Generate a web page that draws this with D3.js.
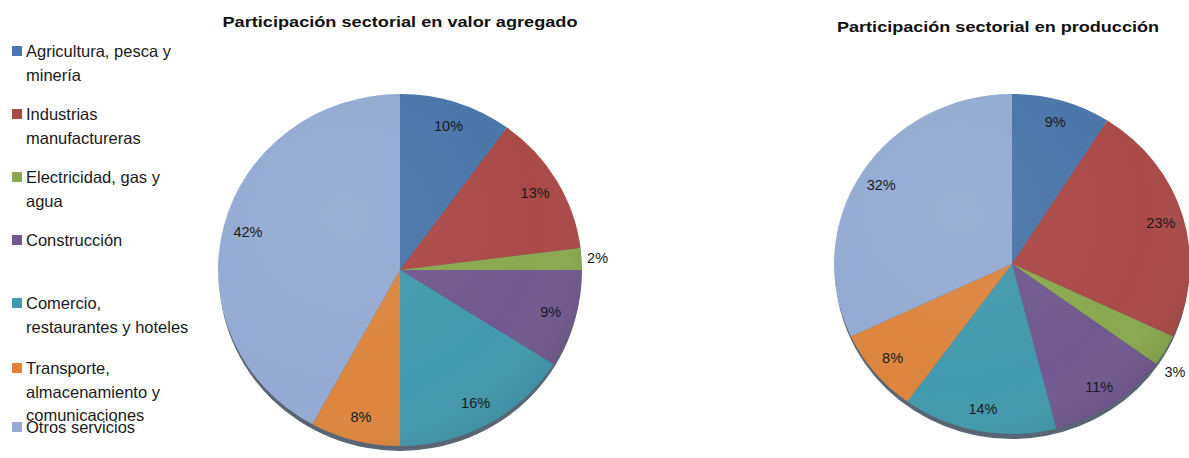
<!DOCTYPE html>
<html>
<head>
<meta charset="utf-8">
<script src="https://cdn.jsdelivr.net/npm/d3@7"></script>
<style>
  html, body { margin: 0; padding: 0; background: #fff; }
  svg { display: block; }
</style>
</head>
<body>
<svg id="chart" width="1189" height="458"></svg>
<script>
// ---- Data ----
const categories = [
  "Agricultura, pesca y|minería",
  "Industrias|manufactureras",
  "Electricidad, gas y|agua",
  "Construcción",
  "Comercio,|restaurantes y hoteles",
  "Transporte,|almacenamiento y|comunicaciones",
  "Otros servicios"
];
const valorAgregado = [10, 13, 2, 9, 16, 8, 42];
const produccion = [9, 23, 3, 11, 14, 8, 32];
const titles = ["Participación sectorial en valor agregado", "Participación sectorial en producción"];
const colors = ["#4a76aa", "#aa4a47", "#8aa84f", "#71598f", "#4399ad", "#dc853f", "#94aad2"];

// ---- Drawing ----
const W = 1189;
const svg = d3.select("#chart");
const font = "'Liberation Sans', Arial, sans-serif";

const defs = svg.append("defs");
const grad = defs.append("radialGradient").attr("id", "shine")
  .attr("cx", "35%").attr("cy", "35%").attr("r", "75%");
grad.append("stop").attr("offset", "0%").attr("stop-color", "#fff").attr("stop-opacity", 0.06);
grad.append("stop").attr("offset", "70%").attr("stop-color", "#fff").attr("stop-opacity", 0.0);
grad.append("stop").attr("offset", "100%").attr("stop-color", "#000").attr("stop-opacity", 0.10);

const color = d3.scaleOrdinal().domain(categories).range(colors);
const pie = d3.pie().sort(null).value(d => d.v);

function drawPie(values, cfg) {
  const data = values.map((v, i) => ({ cat: categories[i], v }));
  const arcs = pie(data);
  const ratio = cfg.ry / cfg.rx;
  const g = svg.append("g").attr("transform", `translate(${cfg.cx},${cfg.cy})`);

  // bottom rim shadow
  g.append("ellipse").attr("cx", 0).attr("cy", 5).attr("rx", cfg.rx - 1).attr("ry", cfg.ry)
    .attr("fill", "#3d4a5a").attr("opacity", 0.85);

  const pg = g.append("g").attr("transform", `scale(1,${ratio})`);
  const arc = d3.arc().innerRadius(0).outerRadius(cfg.rx);
  pg.selectAll("path.slice").data(arcs).join("path")
    .attr("class", "slice")
    .attr("d", arc)
    .attr("fill", d => color(d.data.cat));
  pg.append("circle").attr("r", cfg.rx).attr("fill", "url(#shine)");

  const inArc = d3.arc().innerRadius(cfg.labelR).outerRadius(cfg.labelR);
  const outArc = d3.arc().innerRadius(cfg.outR).outerRadius(cfg.outR);
  g.selectAll("text.lbl").data(arcs).join("text")
    .attr("class", "lbl")
    .each(function (d) {
      const outside = d.data.v < 5;
      const c = (outside ? outArc : inArc).centroid(d);
      let x = c[0], y = c[1] * ratio;
      if (outside && cfg.cx + x > W - 14) {
        // keep the outside label inside the picture, sliding it down the rim
        const dx = W - 14 - cfg.cx - x;
        x += dx;
        y += -dx * 1.2;
      }
      d3.select(this).attr("x", x).attr("y", y);
    })
    .attr("text-anchor", "middle")
    .attr("dy", "0.35em")
    .attr("font-family", font)
    .attr("font-size", 14.5)
    .attr("fill", "#1a1a1a")
    .text(d => d.data.v + "%");

  svg.append("text")
    .attr("x", cfg.tx).attr("y", cfg.ty)
    .attr("text-anchor", "middle")
    .attr("font-family", font)
    .attr("font-weight", "bold")
    .attr("font-size", 15.5)
    .attr("textLength", cfg.tw)
    .attr("lengthAdjust", "spacingAndGlyphs")
    .attr("fill", "#111")
    .text(cfg.title);
}

drawPie(valorAgregado, { cx: 400, cy: 270, rx: 182, ry: 176, labelR: 157, outR: 198,
  title: titles[0], tx: 400, ty: 27, tw: 355 });
drawPie(produccion, { cx: 1012, cy: 264, rx: 178, ry: 170, labelR: 155, outR: 200,
  title: titles[1], tx: 998, ty: 32, tw: 322 });

// ---- Legend ----
const legendBase = [57, 120, 183, 246, 309, 374, 433];
const lineH = 23.5;
const lg = svg.append("g");
categories.forEach((c, i) => {
  const y = legendBase[i];
  lg.append("rect").attr("x", 12).attr("y", y - 11).attr("width", 10).attr("height", 10)
    .attr("fill", color(c));
  const t = lg.append("text").attr("font-family", font).attr("font-size", 16.5).attr("fill", "#1a1a1a");
  c.split("|").forEach((line, j) => {
    t.append("tspan").attr("x", 26).attr("y", y + j * lineH).text(line);
  });
});
</script>
</body>
</html>
